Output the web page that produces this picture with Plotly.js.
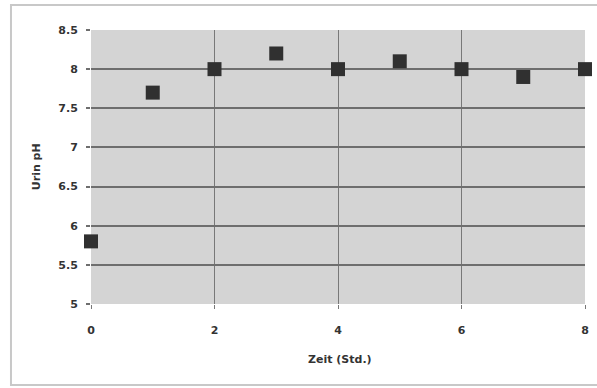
<!DOCTYPE html>
<html>
<head>
<meta charset="utf-8">
<script src="https://cdn.plot.ly/plotly-3.0.1.min.js"></script>
<style>html,body{margin:0;padding:0;background:#fff;}#chart{width:597px;height:388px;}</style>
</head>
<body>
<div id="chart"></div>
<script>
const zeit = [0, 1, 2, 3, 4, 5, 6, 7, 8];
const urinPH = [5.8, 7.7, 8.0, 8.2, 8.0, 8.1, 8.0, 7.9, 8.0];
const xTicks = [0, 2, 4, 6, 8];
const yTicks = [5, 5.5, 6, 6.5, 7, 7.5, 8, 8.5];
const yTickLabels = ['5', '5.5', '6', '6.5', '7', '7.5', '8', '8.5'];
const xTitle = 'Zeit (Std.)';
const yTitle = 'Urin pH';

const trace = {
  x: zeit, y: urinPH, type: 'scatter', mode: 'markers',
  marker: {symbol: 'square', size: 14, color: '#303030', line: {width: 0}},
  cliponaxis: false, showlegend: false
};

const font = {family: 'DejaVu Sans, Arial, sans-serif', size: 11, color: '#333333', weight: 'bold'};

const layout = {
  width: 597, height: 388,
  margin: {l: 91, r: 12, t: 30, b: 84},
  paper_bgcolor: '#ffffff',
  plot_bgcolor: '#d4d4d4',
  showlegend: false,
  xaxis: {
    range: [0, 8], tickvals: xTicks, ticktext: xTicks.map(String),
    showgrid: true, gridcolor: '#787878', gridwidth: 1,
    zeroline: false, showline: false,
    ticks: 'outside', ticklen: 4, tickcolor: '#787878', tickwidth: 1,
    ticklabelstandoff: 12,
    tickfont: font
  },
  yaxis: {
    range: [5, 8.5], tickvals: yTicks, ticktext: yTickLabels,
    showgrid: true, gridcolor: '#6e6e6e', gridwidth: 2,
    zeroline: false, showline: false,
    ticks: 'outside', ticklen: 4, tickcolor: '#6e6e6e', tickwidth: 2,
    ticklabelstandoff: 6,
    tickfont: font
  },
  annotations: [
    {text: xTitle, xref: 'paper', yref: 'paper', x: 0.504, y: -0.204,
     xanchor: 'center', yanchor: 'middle', showarrow: false, font: font},
    {text: yTitle, xref: 'paper', yref: 'paper', x: -0.111, y: 0.5,
     xanchor: 'center', yanchor: 'middle', textangle: -90, showarrow: false, font: font}
  ],
  shapes: [{
    type: 'rect', xref: 'paper', yref: 'paper',
    x0: -0.162, x1: 1.1, y0: -0.296, y1: 1.091,
    line: {color: '#c8c8c8', width: 2}, fillcolor: 'rgba(0,0,0,0)', layer: 'below'
  }]
};

Plotly.newPlot('chart', [trace], layout, {displayModeBar: false, staticPlot: true});
</script>
</body>
</html>
